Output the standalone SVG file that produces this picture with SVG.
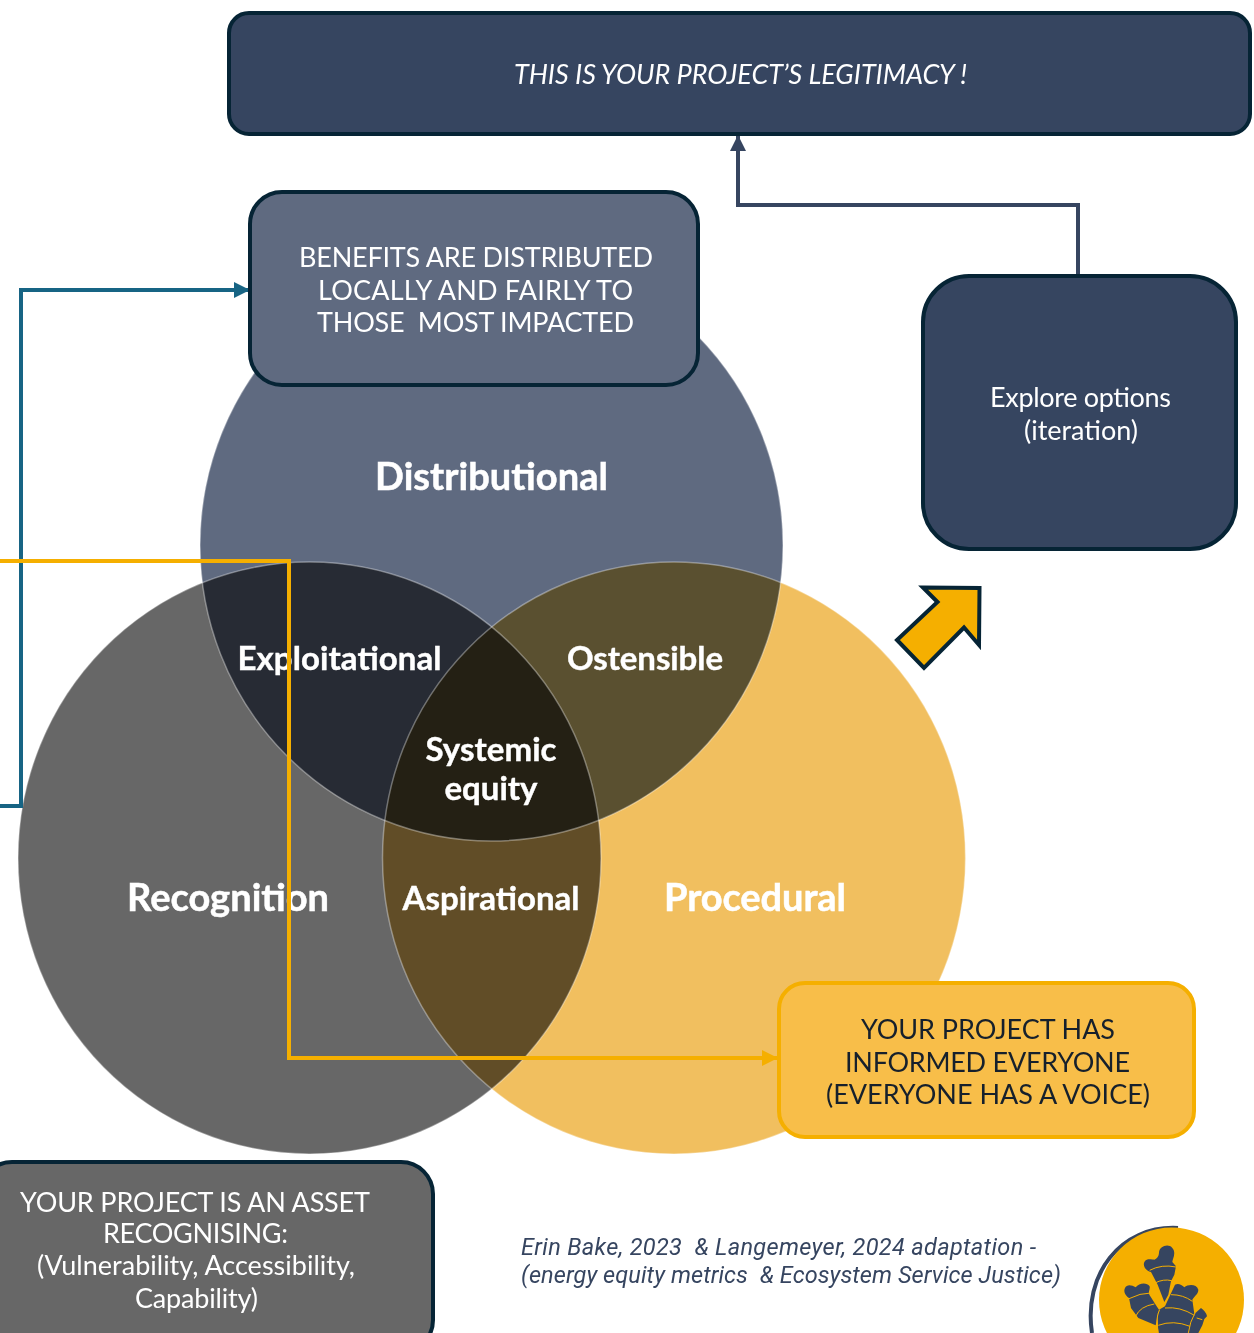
<svg xmlns="http://www.w3.org/2000/svg" width="1254" height="1333" viewBox="0 0 1254 1333">
<style>
text{font-family:"Lato","Liberation Sans",sans-serif;text-anchor:middle;white-space:pre}
.t{font-size:27px;fill:#fff}
.d{font-size:27px;fill:#16202c}
.h{font-weight:700;fill:#fff;font-size:38px;stroke:#fff;stroke-width:.5px}
.m{font-weight:700;fill:#fff;font-size:33px;stroke:#fff;stroke-width:.4px}
.b{stroke:#062435;stroke-width:4px}
.c{mix-blend-mode:multiply}
.o{fill:none;stroke:#fff;stroke-opacity:.35;stroke-width:1.5px}
.l{fill:none;stroke-width:4px}
.g{fill:none;stroke:#f5af00;stroke-width:3px}
.r{font-family:"Roboto","Liberation Sans",sans-serif;font-size:23.5px;font-style:italic;fill:#364560;text-anchor:start}
</style>
<defs>
<marker id="ab" markerUnits="userSpaceOnUse" markerWidth="16" markerHeight="16" refX="15" refY="8" orient="auto"><path d="M0 0L16 8L0 16Z" fill="#176484"/></marker>
<marker id="ay" markerUnits="userSpaceOnUse" markerWidth="16" markerHeight="16" refX="15" refY="8" orient="auto"><path d="M0 0L16 8L0 16Z" fill="#f5af00"/></marker>
<marker id="an" markerUnits="userSpaceOnUse" markerWidth="16" markerHeight="16" refX="15" refY="8" orient="auto"><path d="M0 0L16 8L0 16Z" fill="#364560"/></marker>
</defs>
<g id="venn">
<ellipse class="c" cx="309.500" cy="858" rx="291.500" ry="296" fill="#676767"/>
<ellipse class="c" cx="674" cy="858" rx="291.500" ry="296" fill="#f1bf5f"/>
<ellipse class="c" cx="491.500" cy="545" rx="291.500" ry="296" fill="#5f6a80"/>
<ellipse class="o" cx="309.500" cy="858" rx="291.500" ry="296"/>
<ellipse class="o" cx="674" cy="858" rx="291.500" ry="296"/>
<ellipse class="o" cx="491.500" cy="545" rx="291.500" ry="296"/>
</g>
<g id="labels">
<text class="h" x="491.500" y="490" textLength="233">Distributional</text>
<text class="h" x="228" y="911" textLength="202">Recognition</text>
<text class="h" x="755" y="911" textLength="182">Procedural</text>
<text class="m" x="339.500" y="670" textLength="204">Exploitational</text>
<text class="m" x="645" y="670" textLength="156">Ostensible</text>
<text class="m" x="491" y="761" textLength="131">Systemic</text>
<text class="m" x="491" y="800" textLength="93">equity</text>
<text class="m" x="491" y="910" textLength="177">Aspirational</text>
</g>
<g id="connectors">
<path class="l" stroke="#176484" d="M0 806H21V290H249" marker-end="url(#ab)"/>
<path class="l" stroke="#f5af00" d="M0 561H289V1058H777" marker-end="url(#ay)"/>
<path class="l" stroke="#364560" d="M1078 275V205H738V136" marker-end="url(#an)"/>
</g>
<g id="legitimacy"><rect class="b" x="229" y="13" width="1021" height="121" rx="20" fill="#364560"/>
<text class="t" x="740.500" y="84" font-style="italic" textLength="453">THIS IS YOUR PROJECT’S LEGITIMACY !</text></g>
<g id="benefits"><rect class="b" x="250" y="192" width="448" height="193" rx="32" fill="#5f6a80"/>
<text class="t" x="476" y="267" textLength="354">BENEFITS ARE DISTRIBUTED</text><text class="t" x="475.500" y="300" textLength="315">LOCALLY AND FAIRLY TO</text><text class="t" x="475.500" y="332" textLength="317">THOSE  MOST IMPACTED</text></g>
<g id="explore"><rect class="b" x="923" y="276" width="313" height="273" rx="46" fill="#364560"/>
<text class="t" x="1080.500" y="407" textLength="181">Explore options</text><text class="t" x="1081" y="440" textLength="114">(iteration)</text></g>
<g id="big-arrow"><path d="M923 587.500L979.500 588L979 645L964 627.500L924 668L897 640L937.500 602Z" fill="#f5af00" stroke="#062435" stroke-width="4"/></g>
<g id="informed"><rect x="779" y="983" width="415" height="154" rx="26" fill="#f8be49" stroke="#f5af00" stroke-width="4"/>
<text class="d" x="988" y="1039" textLength="254">YOUR PROJECT HAS</text><text class="d" x="987.500" y="1072" textLength="285">INFORMED EVERYONE</text><text class="d" x="988" y="1104" textLength="324">(EVERYONE HAS A VOICE)</text></g>
<g id="asset"><rect class="b" x="-20" y="1162" width="453" height="190" rx="32" fill="#676767"/>
<text class="t" x="195" y="1212" textLength="350">YOUR PROJECT IS AN ASSET</text><text class="t" x="195.500" y="1243" textLength="185">RECOGNISING:</text><text class="t" x="196" y="1275" textLength="318">(Vulnerability, Accessibility,</text><text class="t" x="196.500" y="1308" textLength="123">Capability)</text></g>
<g id="citation"><text class="r" x="521" y="1255" textLength="515">Erin Bake, 2023  &amp; Langemeyer, 2024 adaptation -</text>
<text class="r" x="521" y="1283" textLength="540">(energy equity metrics  &amp; Ecosystem Service Justice)</text></g>
<g id="logo">
<path d="M1092 1333C1083 1275 1120 1225 1178 1228" fill="none" stroke="#364560" stroke-width="4"/>
<circle cx="1171.500" cy="1300" r="72.500" fill="#f5af00"/>
<g transform="translate(1115 1238) scale(.3333)">
<path fill="#364560" d="M132 45C132 25 160 15 172 30C185 45 172 65 172 72L183 85L178 110L168 130L160 170L148 192L128 140L108 102C95 100 82 85 88 72C95 60 110 65 118 65C125 62 132 55 132 45Z"/>
<path fill="#364560" d="M30 150C35 138 50 140 62 148C72 135 95 132 104 145C106 155 98 162 104 172L125 205L132 215L122 262L70 240L48 210L42 180C30 172 25 160 30 150Z"/>
<path fill="#364560" d="M150 205L180 140C190 135 200 140 208 148C220 138 245 138 250 155C250 168 240 172 232 185L238 228L258 210C265 215 275 225 276 235L268 243L262 262L250 285H130L128 240L132 215Z"/>
<path class="g" d="M104 97Q140 78 183 87M120 135Q145 122 170 128M42 182Q75 165 108 165M62 235Q75 205 118 198M168 170Q205 170 232 190M150 210Q195 205 238 232M130 262Q175 245 225 265M134 215Q120 240 130 285M240 225Q225 250 220 285M245 240L262 245"/>
</g>
</g>
</svg>
